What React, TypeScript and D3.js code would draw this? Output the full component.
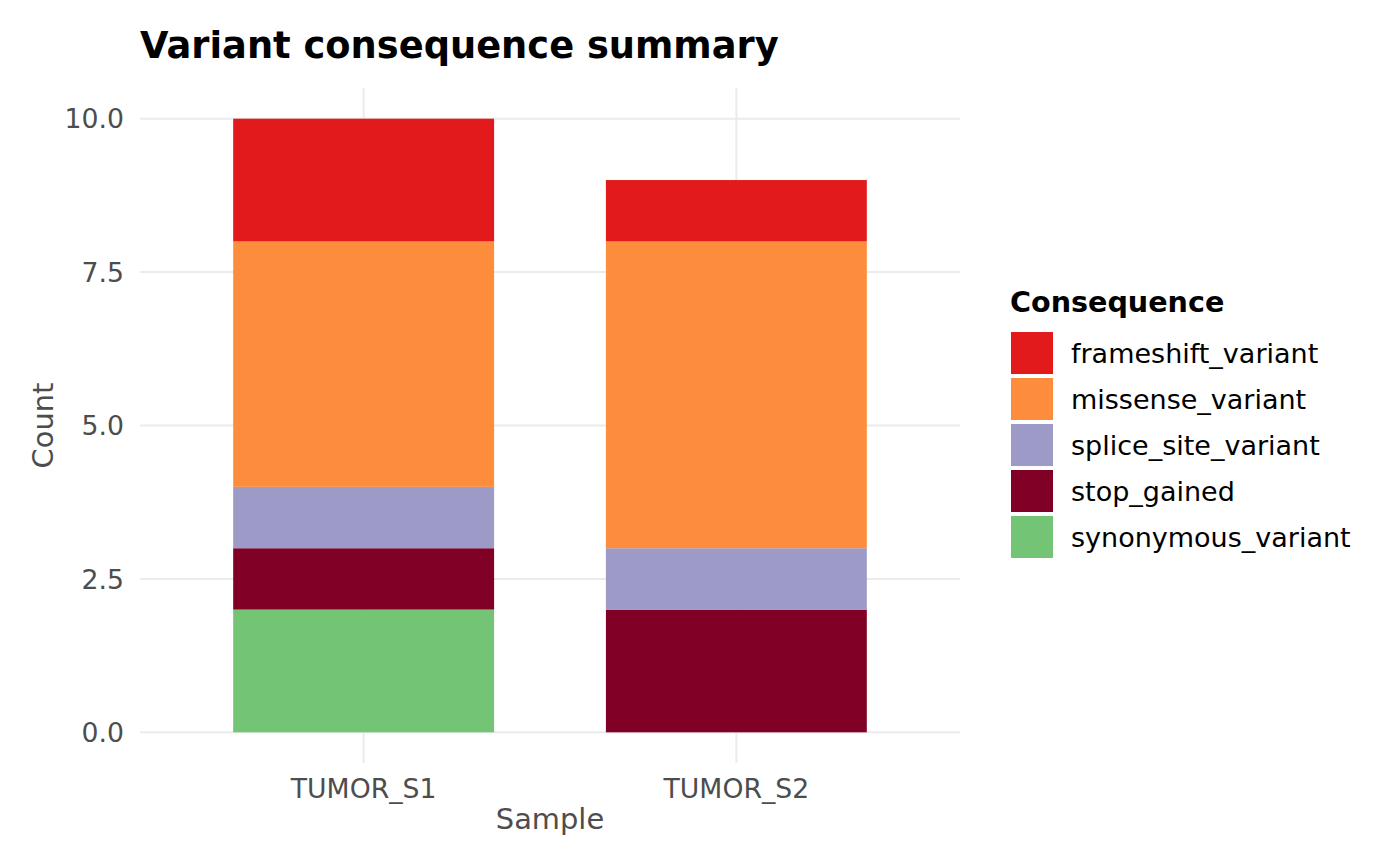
import React, { useEffect, useRef } from 'react';
import * as d3 from 'd3';

const samples = ['TUMOR_S1', 'TUMOR_S2'];
const consequences = ['frameshift_variant', 'missense_variant', 'splice_site_variant', 'stop_gained', 'synonymous_variant'];
const colors = ['#E31A1C', '#FD8D3C', '#9E9AC8', '#800026', '#74C476'];
// counts per sample, same order as consequences
const countsS1 = [2, 4, 1, 1, 2];
const countsS2 = [1, 5, 1, 2, 0];
const yTicks = [0, 2.5, 5, 7.5, 10];

const W = 1400;
const H = 866;
const FONT = 'DejaVu Sans, sans-serif';

export default function App() {
  const svgRef = useRef<SVGSVGElement>(null);

  function draw(elm: SVGSVGElement) {
    const svg = d3.select(elm);
    svg.selectAll('*').remove();

    const panel = { left: 140, right: 960, top: 88, bottom: 763 };

    // ggplot-style discrete axis: categories at 1..n, limits 0.4..n+0.6
    const xc = d3.scaleLinear().domain([0.4, samples.length + 0.6]).range([panel.left, panel.right]);
    const bw = xc(1.35) - xc(1);

    const y = d3.scaleLinear().domain([-0.5, 10.5]).range([panel.bottom, panel.top]);

    const color = d3.scaleOrdinal<string>().domain(consequences).range(colors);

    // gridlines
    svg.append('g').selectAll('line')
      .data(yTicks)
      .enter().append('line')
      .attr('x1', panel.left).attr('x2', panel.right)
      .attr('y1', d => y(d)).attr('y2', d => y(d))
      .attr('stroke', '#EBEBEB').attr('stroke-width', 2);

    svg.append('g').selectAll('line')
      .data(samples)
      .enter().append('line')
      .attr('x1', (d, i) => xc(i + 1)).attr('x2', (d, i) => xc(i + 1))
      .attr('y1', panel.top).attr('y2', panel.bottom)
      .attr('stroke', '#EBEBEB').attr('stroke-width', 2);

    // stacked bars (last factor level at the bottom, like ggplot)
    const rows = samples.map((s, i) => {
      const vals = i === 0 ? countsS1 : countsS2;
      const row: any = { sample: s };
      consequences.forEach((c, j) => { row[c] = vals[j]; });
      return row;
    });
    const stack = d3.stack<any>().keys(consequences.slice().reverse());
    const series = stack(rows);

    const gBars = svg.append('g');
    series.forEach(ser => {
      gBars.selectAll(null)
        .data(ser.filter(d => d[1] - d[0] > 0))
        .enter().append('rect')
        .attr('x', d => xc(samples.indexOf(d.data.sample) + 1) - bw)
        .attr('width', bw * 2)
        .attr('y', d => y(d[1]))
        .attr('height', d => y(d[0]) - y(d[1]))
        .attr('fill', color(ser.key));
    });

    // y tick labels
    svg.append('g').selectAll('text')
      .data(yTicks)
      .enter().append('text')
      .attr('x', 124).attr('y', d => y(d))
      .attr('dy', '0.36em')
      .attr('text-anchor', 'end')
      .attr('font-family', FONT).attr('font-size', 26.7)
      .attr('fill', '#4D4D4D')
      .text(d => d.toFixed(1));

    // x tick labels
    svg.append('g').selectAll('text')
      .data(samples)
      .enter().append('text')
      .attr('x', (d, i) => xc(i + 1)).attr('y', 798)
      .attr('text-anchor', 'middle')
      .attr('font-family', FONT).attr('font-size', 26.7)
      .attr('fill', '#4D4D4D')
      .text(d => d);

    // axis titles
    svg.append('text')
      .attr('x', (panel.left + panel.right) / 2).attr('y', 829)
      .attr('text-anchor', 'middle')
      .attr('font-family', FONT).attr('font-size', 28.9)
      .attr('fill', '#4D4D4D')
      .text('Sample');

    svg.append('text')
      .attr('transform', `translate(53,${(panel.top + panel.bottom) / 2}) rotate(-90)`)
      .attr('text-anchor', 'middle')
      .attr('font-family', FONT).attr('font-size', 28.9)
      .attr('fill', '#4D4D4D')
      .text('Count');

    // title
    svg.append('text')
      .attr('x', 140).attr('y', 58)
      .attr('font-family', FONT).attr('font-size', 36.8).attr('font-weight', 'bold')
      .attr('fill', '#000')
      .text('Variant consequence summary');

    // legend
    const lg = svg.append('g');
    lg.append('text')
      .attr('x', 1010).attr('y', 312)
      .attr('font-family', FONT).attr('font-size', 28.6).attr('font-weight', 'bold')
      .attr('fill', '#000')
      .text('Consequence');

    const items = lg.selectAll('g.item')
      .data(consequences)
      .enter().append('g')
      .attr('transform', (d, i) => `translate(1011,${332 + i * 46})`);
    items.append('rect')
      .attr('width', 42).attr('height', 42)
      .attr('fill', d => color(d));
    items.append('text')
      .attr('x', 60).attr('y', 21).attr('dy', '0.36em')
      .attr('font-family', FONT).attr('font-size', 27)
      .attr('fill', '#000')
      .text(d => d);
  }

  useEffect(() => {
    if (svgRef.current) {
      draw(svgRef.current);
    }
  }, []);

  return (
    <svg ref={svgRef} width={W} height={H} style={{ display: 'block', margin: -8 }}></svg>
  );
}
